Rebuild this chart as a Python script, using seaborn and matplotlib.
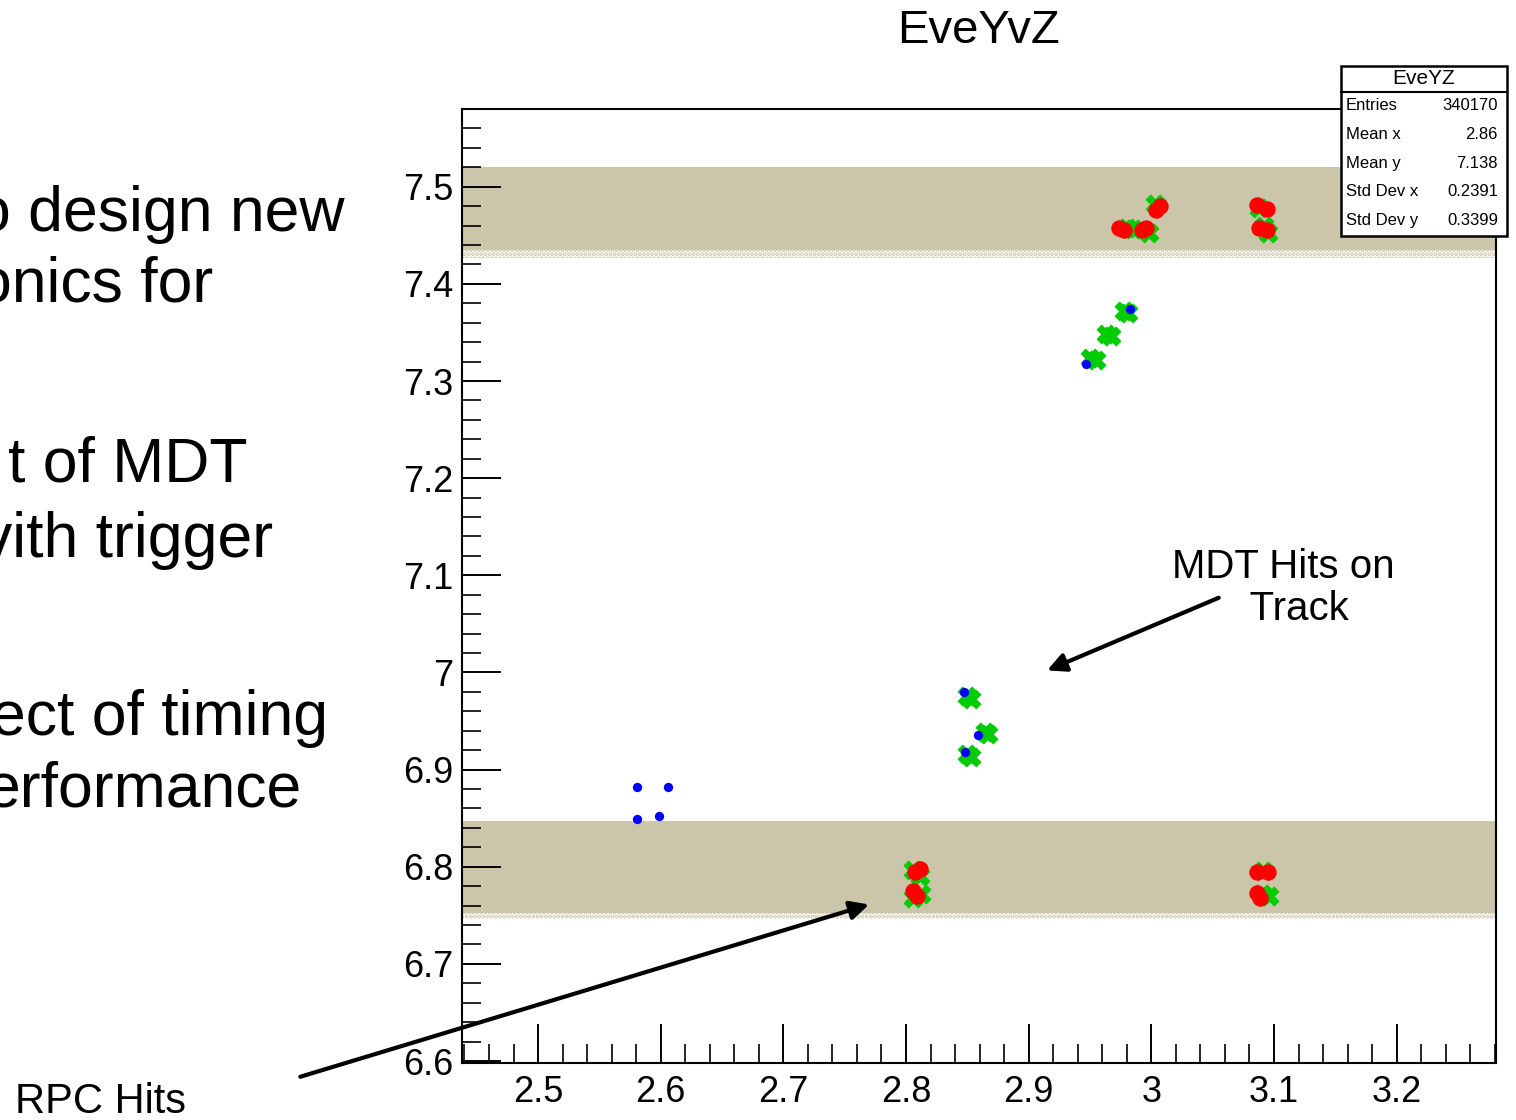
import numpy as np
import pandas as pd
import matplotlib
matplotlib.use('Agg')
import matplotlib.pyplot as plt
import seaborn as sns

sns.set_style('white')
plt.rcParams['font.family'] = ['Liberation Sans', 'DejaVu Sans']
plt.rcParams['text.color'] = 'black'
plt.rcParams['xtick.color'] = 'black'
plt.rcParams['ytick.color'] = 'black'
plt.rcParams['hatch.linewidth'] = 2.0

# hits (z, y)
red_x = [2.974, 2.978, 2.996, 2.992, 3.007, 3.004, 3.086, 3.094, 3.088, 3.094,
         2.811, 2.807, 2.806, 2.809, 3.086, 3.095, 3.086, 3.089]
red_y = [7.458, 7.455, 7.458, 7.455, 7.480, 7.476, 7.481, 7.477, 7.457, 7.455,
         6.798, 6.795, 6.775, 6.770, 6.795, 6.795, 6.773, 6.768]
green_x = [2.985, 2.980, 2.998, 3.003, 3.088, 3.092, 3.095,
           2.950, 2.955, 2.963, 2.967, 2.978, 2.981,
           2.850, 2.853, 2.864, 2.867, 2.850, 2.853,
           2.806, 2.811, 2.812, 2.806, 3.091, 3.096, 3.090]
green_y = [7.456, 7.458, 7.452, 7.482, 7.478, 7.460, 7.452,
           7.324, 7.322, 7.348, 7.346, 7.372, 7.370,
           6.976, 6.973, 6.939, 6.937, 6.916, 6.913,
           6.797, 6.790, 6.772, 6.768, 6.796, 6.770, 6.772]
blue_x = [2.581, 2.606, 2.581, 2.599, 2.947, 2.983, 2.847, 2.859, 2.848]
blue_y = [6.882, 6.882, 6.849, 6.852, 7.318, 7.374, 6.980, 6.936, 6.918]

# chamber bands (y ranges)
band_top = (7.435, 7.520)
band_bot = (6.752, 6.847)

stat_names = ['Entries', 'Mean x', 'Mean y', 'Std Dev x', 'Std Dev y']
stat_vals = ['340170', '2.86', '7.138', '0.2391', '0.3399']

slide_lines = ['o design new', 'onics for', 't of MDT', 'vith trigger',
               'ect of timing', 'erformance']
slide_right = [345, 213, 248, 273, 328, 302]
slide_y = [215, 285, 465, 540, 718, 790]

W, H = 1516, 1120
fig = plt.figure(figsize=(W / 100, H / 100), dpi=100)
ax = fig.add_axes([462 / W, 1 - 1063 / H, (1496 - 462) / W, (1063 - 109) / H])

band_col = '#cbc5a9'
for lo, hi in [band_top, band_bot]:
    ax.axhspan(lo, hi, color=band_col, lw=0, zorder=0)
ax.axhspan(band_top[0] - 0.008, band_top[0], facecolor='white', edgecolor=band_col,
           hatch='....', lw=0, zorder=0)
ax.axhspan(band_bot[0] - 0.006, band_bot[0], facecolor='white', edgecolor=band_col,
           hatch='....', lw=0, zorder=0)

df_r = pd.DataFrame({'z': red_x, 'y': red_y})
df_g = pd.DataFrame({'z': green_x, 'y': green_y})
df_b = pd.DataFrame({'z': blue_x, 'y': blue_y})
sns.scatterplot(data=df_g, x='z', y='y', ax=ax, marker='X', s=190, color='#00cc00',
                edgecolor='#00cc00', linewidth=0.5, zorder=3)
sns.scatterplot(data=df_r, x='z', y='y', ax=ax, marker='o', s=140, color='#ff0000',
                edgecolor='#ff0000', linewidth=0, zorder=4)
sns.scatterplot(data=df_b, x='z', y='y', ax=ax, marker='o', s=45, color='#0000ff',
                edgecolor='#0000ff', linewidth=0, zorder=5)

ax.set_xlim(2.438, 3.281)
ax.set_ylim(6.598, 7.58)
ax.set_xlabel('')
ax.set_ylabel('')
ax.set_xticks(np.arange(2.5, 3.25, 0.1))
ax.set_xticklabels(['2.5', '2.6', '2.7', '2.8', '2.9', '3', '3.1', '3.2'])
ax.set_yticks(np.arange(6.6, 7.55, 0.1))
ax.set_yticklabels(['6.6', '6.7', '6.8', '6.9', '7', '7.1', '7.2', '7.3', '7.4', '7.5'])
ax.xaxis.set_minor_locator(matplotlib.ticker.MultipleLocator(0.02))
ax.yaxis.set_minor_locator(matplotlib.ticker.MultipleLocator(0.02))
ax.tick_params(which='both', bottom=True, left=True, top=False, right=False)
ax.tick_params(which='major', direction='in', length=28, width=1.4, labelsize=26,
               color='black', labelcolor='black')
ax.tick_params(which='minor', direction='in', length=14, width=1.2, color='black')
ax.tick_params(axis='x', pad=9)
ax.tick_params(axis='y', pad=6)
for sp in ax.spines.values():
    sp.set_color('black')
    sp.set_linewidth(1.5)

fig.text(978 / W, 1 - 31 / H, 'EveYvZ', ha='center', va='center', fontsize=34)

# arrows
ax.annotate('', xy=(2.913, 7.001), xytext=(3.057, 7.078),
            arrowprops=dict(arrowstyle='-|>', lw=3, color='black', mutation_scale=28))
ax.annotate('', xy=(2.772, 6.762), xytext=(2.304, 6.583), annotation_clip=False,
            arrowprops=dict(arrowstyle='-|>', lw=3, color='black', mutation_scale=28))
fig.text(1283 / W, 1 - 588 / H, 'MDT Hits on\n   Track', ha='center', va='center',
         fontsize=29, linespacing=1.15)
fig.text(15 / W, 1 - 1102 / H, 'RPC Hits', ha='left', va='center', fontsize=30)

for t, xr, yy in zip(slide_lines, slide_right, slide_y):
    fig.text(xr / W, 1 - yy / H, t, ha='right', va='center', fontsize=45)

# stats box
bx0, bx1, by0, by1 = 1341, 1507, 66, 236
fig.patches.append(plt.Rectangle((bx0 / W, 1 - by1 / H), (bx1 - bx0) / W, (by1 - by0) / H,
                                 transform=fig.transFigure, facecolor='white',
                                 edgecolor='black', lw=1.8, zorder=10))
fig.lines.append(plt.Line2D([bx0 / W, bx1 / W], [1 - 92 / H, 1 - 92 / H],
                            transform=fig.transFigure, color='black', lw=1.5, zorder=11))
fig.text((bx0 + bx1) / 2 / W, 1 - 79 / H, 'EveYZ', ha='center', va='center',
         fontsize=15, zorder=12)
for i, (n, v) in enumerate(zip(stat_names, stat_vals)):
    yy = 1 - (106 + i * 28.6) / H
    fig.text(1346 / W, yy, n, ha='left', va='center', fontsize=12, zorder=12)
    fig.text(1498 / W, yy, v, ha='right', va='center', fontsize=12, zorder=12)

fig.savefig('out.png', dpi=100)
